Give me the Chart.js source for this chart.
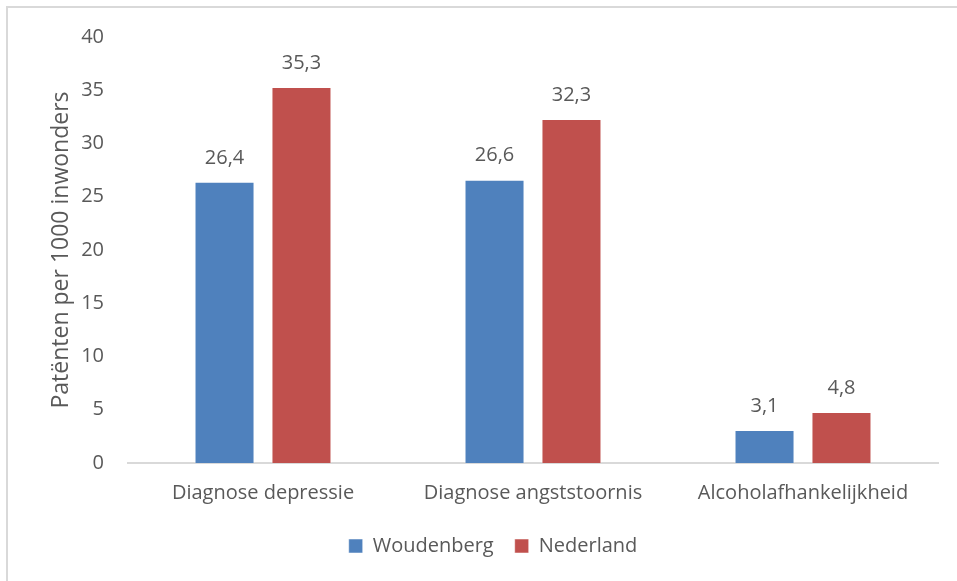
<!DOCTYPE html>
<html>
<head>
<meta charset="utf-8">
<script src="https://cdn.jsdelivr.net/npm/chart.js@4"></script>
<style>
  html, body { margin: 0; padding: 0; background: #fff; overflow: hidden; }
  #frame { position: absolute; left: 6px; top: 6px; width: 1000px; height: 1000px; border: 2px solid #d9d9d9; }
  #wrap { position: absolute; left: 0; top: 0; width: 957px; height: 581px; }
</style>
</head>
<body>
<div id="frame"></div>
<div id="wrap"><canvas id="myChart" width="957" height="581"></canvas></div>
<script>
// chart data
let categories = ["Diagnose depressie", "Diagnose angststoornis", "Alcoholafhankelijkheid"]
let woudenberg = [26.4, 26.6, 3.1]
let nederland = [35.3, 32.3, 4.8]
let yTicks = [0, 5, 10, 15, 20, 25, 30, 35, 40]

let textColor = "#595959"
let fontFamily = "'Open Sans', sans-serif"

// labels above the bars, comma as decimal sign
let valueLabels = {
    id: "valueLabels",
    afterDatasetsDraw(chart) {
        let ctx = chart.ctx
        ctx.save()
        ctx.fillStyle = textColor
        ctx.font = "20px " + fontFamily
        ctx.textAlign = "center"
        ctx.textBaseline = "middle"
        chart.data.datasets.forEach(function (ds, i) {
            chart.getDatasetMeta(i).data.forEach(function (bar, j) {
                let txt = ds.data[j].toFixed(1).replace(".", ",")
                ctx.fillText(txt, bar.x, bar.y - 24)
            })
        })
        ctx.restore()
    }
}

let canvas = document.getElementById("myChart")
let ctx = canvas.getContext("2d")

let myBarChart = new Chart(ctx, {
    type: "bar",
    data: {
        labels: categories,
        datasets: [
            {
                label: "Woudenberg",
                data: woudenberg,
                backgroundColor: "#4F81BD",
                borderColor: "rgba(255,255,255,0.5)",
                borderWidth: 1
            },
            {
                label: "Nederland",
                data: nederland,
                backgroundColor: "#C0504D",
                borderColor: "rgba(255,255,255,0.5)",
                borderWidth: 1
            }
        ]
    },
    options: {
        responsive: false,
        animation: false,
        layout: {
            padding: { left: 48, right: 19, top: 37, bottom: 15 }
        },
        datasets: {
            bar: { categoryPercentage: 0.57, barPercentage: 0.78 }
        },
        plugins: {
            tooltip: { enabled: false },
            legend: {
                position: "bottom",
                labels: {
                    color: textColor,
                    font: { family: fontFamily, size: 20 },
                    boxWidth: 14,
                    boxHeight: 14,
                    padding: 21
                }
            }
        },
        scales: {
            x: {
                grid: { display: false },
                border: { color: "#d9d9d9", width: 2 },
                ticks: {
                    color: textColor,
                    font: { family: fontFamily, size: 20 },
                    padding: 10,
                    maxRotation: 0
                }
            },
            y: {
                min: 0,
                max: 40,
                afterBuildTicks: function (scale) {
                    scale.ticks = yTicks.map(function (v) { return { value: v } })
                },
                afterFit: function (scale) {
                    scale.width = 80
                },
                grid: { display: false },
                border: { display: false },
                ticks: {
                    color: textColor,
                    font: { family: fontFamily, size: 20 },
                    padding: 16
                },
                title: {
                    display: true,
                    text: "Patënten per 1000 inwonders",
                    color: textColor,
                    font: { family: fontFamily, size: 23 },
                    padding: { top: 0, bottom: 0 }
                }
            }
        }
    },
    plugins: [valueLabels]
})
</script>
</body>
</html>
